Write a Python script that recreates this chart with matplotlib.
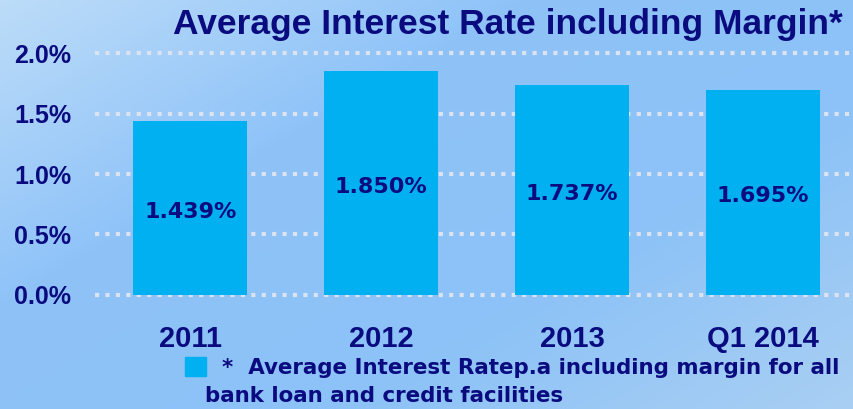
import numpy as np
import matplotlib
matplotlib.use("Agg")
import matplotlib.pyplot as plt
from matplotlib.colors import LinearSegmentedColormap

categories = ["2011", "2012", "2013", "Q1 2014"]
rates = [1.439, 1.850, 1.737, 1.695]
rate_labels = ["1.439%", "1.850%", "1.737%", "1.695%"]
y_ticks = [0.0, 0.5, 1.0, 1.5, 2.0]
y_tick_labels = ["0.0%", "0.5%", "1.0%", "1.5%", "2.0%"]

NAVY = "#0b0b80"
BAR = "#00b0f0"
FONT = ["Liberation Sans", "DejaVu Sans"]
WIDE = ["DejaVu Sans"]

fig = plt.figure(figsize=(8.54, 4.09), dpi=100)

# diagonal gradient background
bg = fig.add_axes([0, 0, 1, 1], zorder=-10)
xx, yy = np.meshgrid(np.linspace(0, 1, 300), np.linspace(0, 1, 150))
t = 0.55 * xx + 0.45 * yy
cmap = LinearSegmentedColormap.from_list(
    "bg", ["#bcdcf9", "#8fc3f8", "#8cc2f7", "#a9cff3"])
bg.imshow(t, cmap=cmap, aspect="auto", extent=[0, 1, 0, 1], origin="upper")
bg.axis("off")

ax = fig.add_axes([0.111, 0.279, 0.894, 0.591])
ax.patch.set_alpha(0)
x = np.arange(len(categories))
ax.bar(x, rates, width=0.6, color=BAR, zorder=3)

for xi, v, lab in zip(x, rates, rate_labels):
    ax.text(xi, v / 2 - 0.03, lab, ha="center", va="center", color=NAVY,
            fontsize=16, fontweight="bold", family=WIDE, zorder=4)

ax.set_xlim(-0.5, 3.5)
ax.set_ylim(0, 2.0)
ax.set_yticks(y_ticks)
ax.set_yticklabels(y_tick_labels)
ax.set_xticks(x)
ax.set_xticklabels(categories)
for s in ax.spines.values():
    s.set_visible(False)
ax.tick_params(length=0)
ax.tick_params(axis="y", pad=17, labelsize=18, labelcolor=NAVY)
ax.tick_params(axis="x", pad=22, labelsize=21, labelcolor=NAVY)
for lab in ax.get_xticklabels() + ax.get_yticklabels():
    lab.set_fontweight("bold")
    lab.set_family(FONT)

for yv in y_ticks:
    ax.axhline(yv, color="#dbe3f1", lw=3, linestyle=(0, (1, 1.5)),
               zorder=2, clip_on=False)

fig.text(0.595, 0.939, "Average Interest Rate including Margin*", ha="center",
         va="center", color=NAVY, fontsize=25.5, fontweight="bold", family=FONT)

# legend
fig.patches.append(plt.Rectangle((185 / 854, 1 - 376 / 409), 21 / 854, 19 / 409,
                                 transform=fig.transFigure, color=BAR))
fig.text(222 / 854, 1 - 368 / 409,
         "*  Average Interest Ratep.a including margin for all",
         ha="left", va="center", color=NAVY, fontsize=15.4, fontweight="bold",
         family=WIDE)
fig.text(205 / 854, 1 - 396 / 409, "bank loan and credit facilities",
         ha="left", va="center", color=NAVY, fontsize=15.4, fontweight="bold",
         family=WIDE)

fig.savefig("out.png", dpi=100)
